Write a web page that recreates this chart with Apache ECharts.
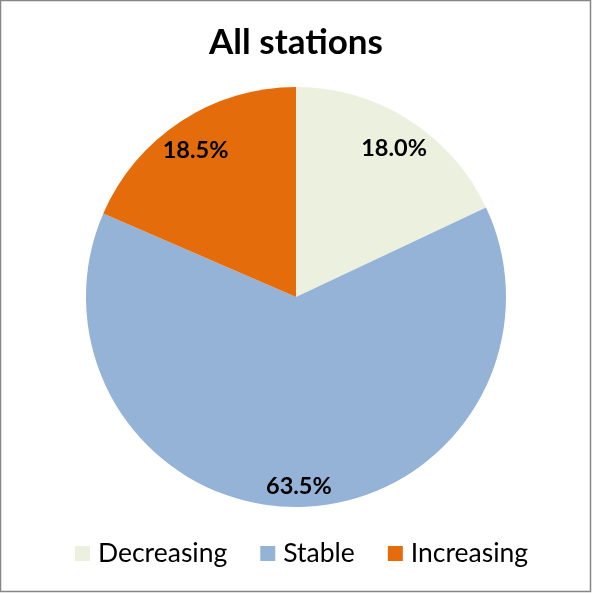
<!DOCTYPE html>
<html><head><meta charset="utf-8">
<script src="https://cdn.jsdelivr.net/npm/echarts@6/dist/echarts.min.js"></script>
<style>html,body{margin:0;padding:0;background:#fff}#c{width:592px;height:593px}</style>
</head><body><div id="c"></div>
<script>
const categories = ['Decreasing', 'Stable', 'Increasing'];
const values = [18.0, 63.5, 18.5];
const colors = ['#EBF1DE', '#95B3D7', '#E46C0A'];
const titleText = 'All stations';

const chart = echarts.init(document.getElementById('c'));
const data = categories.map((n, i) => ({ name: n, value: values[i], itemStyle: { color: colors[i] } }));
const font = 'Lato, "Open Sans", sans-serif';
chart.setOption({
  backgroundColor: '#fff',
  animation: false,
  title: { text: titleText, left: 'center', top: 20, textStyle: { fontFamily: font, fontWeight: 'bold', fontSize: 35, color: '#000' } },
  legend: {
    bottom: 21, left: 70, itemWidth: 15, itemHeight: 15, itemGap: 33,
    icon: 'rect',
    textStyle: { fontFamily: font, fontSize: 26.5, color: '#000', padding: [0, 0, 0, 3] },
    data: categories
  },
  graphic: [{ type: 'rect', shape: { x: 0.5, y: 0.5, width: 590, height: 591 }, style: { fill: 'none', stroke: '#868686', lineWidth: 1.5 }, silent: true }],
  series: [
    {
      type: 'pie', center: [296, 297], radius: [0, 210], startAngle: 90, clockwise: true,
      data: data, label: { show: false }, labelLine: { show: false }, itemStyle: { borderWidth: 0 }, silent: true
    },
    {
      type: 'pie', center: [296, 297], radius: [148, 212], startAngle: 90, clockwise: true,
      data: data.map(d => ({ name: d.name, value: d.value, itemStyle: { color: 'rgba(0,0,0,0)' } })),
      legendHoverLink: false, silent: true,
      label: { show: true, position: 'inside', offset: [0, 6], formatter: p => p.value.toFixed(1) + '%', fontFamily: font, fontWeight: 'bold', fontSize: 23.5, color: '#000' },
      labelLine: { show: false }, itemStyle: { borderWidth: 0 }
    }
  ]
});
</script></body></html>
